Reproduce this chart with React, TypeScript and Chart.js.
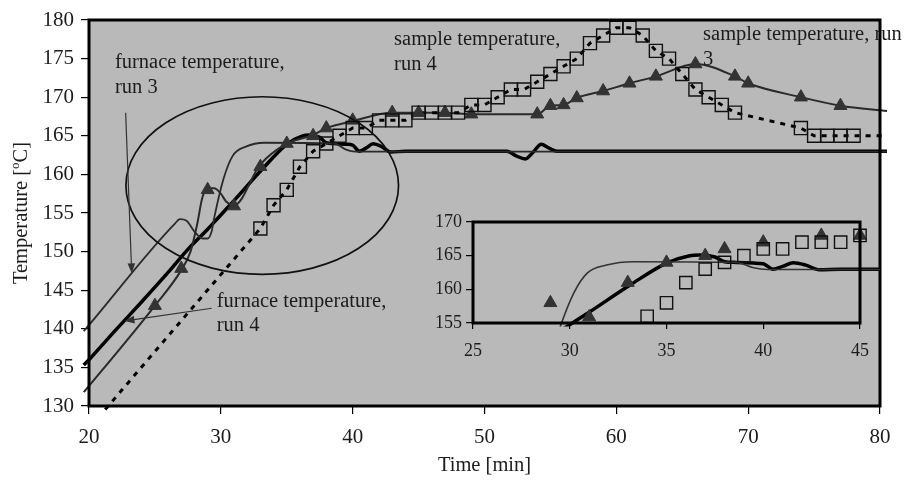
import React, { useEffect, useRef } from "react";
import { Chart, registerables } from "chart.js";

Chart.register(...registerables);

const FONT = "'Liberation Serif', 'Times New Roman', Times, serif";
const PLOT_BG = "#b9b9b9";
const INK = "#1c1c1c";

// ---------- axes ----------
const xTicks = [20, 30, 40, 50, 60, 70, 80];
const yTicks = [130, 135, 140, 145, 150, 155, 160, 165, 170, 175, 180];
const insetXTicks = [25, 30, 35, 40, 45];
const insetYTicks = [155, 160, 165, 170];

// ---------- furnace temperature, run 4 (thick line) ----------
const furnace4X = [19.6, 20, 22, 24, 26, 27.4, 29, 29.84, 31, 33.1, 35, 36.2, 36.7, 37.5, 38, 38.6, 39.5, 40, 40.5, 41, 41.55, 42.2, 42.9, 44, 51.7, 52.4, 53.1, 53.7, 54.3, 54.9, 55.5, 80.6];
const furnace4Y = [135.3, 136, 139.8, 143.5, 147.3, 150.1, 152.9, 154.45, 156.6, 160.6, 163.9, 165.0, 165.1, 164.8, 164.1, 164, 163.9, 163.8, 163.0, 163.4, 163.96, 163.6, 162.9, 163, 163, 162.4, 162.0, 162.9, 163.9, 163.4, 163, 163];

// ---------- furnace temperature, run 3 (thin line) ----------
const furnace3X = [19.6, 20, 26.5, 26.9, 27.4, 28.0, 28.6, 29.0, 29.3, 29.5, 30.2, 30.9, 31.9, 33.3, 38.6, 39.5, 40.2, 80.6];
const furnace3Y = [139.7, 140.5, 153.6, 154.2, 154.0, 152.6, 151.7, 151.7, 152.6, 154.4, 159.4, 162.4, 163.6, 164.1, 164.0, 163.2, 162.95, 162.95];

// ---------- sample temperature, run 3 (curve + triangles) ----------
const sample3LineX = [19.6, 20, 25, 27, 27.7, 28.2, 28.6, 29.0, 29.5, 30.0, 30.4, 31, 33, 35, 37, 38, 40, 43, 45, 47, 49, 54, 55, 56, 57, 59, 61, 63, 66, 69, 70, 74, 77, 80.6];
const sample3LineY = [131.8, 132.6, 143, 147.6, 150, 153.5, 157, 158.2, 158.2, 157.5, 156.5, 156, 161.3, 164, 165.1, 166, 166.9, 168, 168, 168, 167.8, 167.8, 168.9, 169, 169.9, 170.8, 171.8, 172.7, 174.3, 172.7, 171.8, 170, 168.9, 168.2];
const sample3X = [25, 27, 29, 31, 33, 35, 37, 38, 40, 43, 45, 47, 49, 54, 55, 56, 57, 59, 61, 63, 66, 69, 70, 74, 77];
const sample3Y = [143, 147.8, 158, 155.9, 161, 164, 165, 166, 167, 168, 168, 168, 167.8, 167.8, 168.9, 169, 169.9, 170.8, 171.8, 172.7, 174.3, 172.7, 171.8, 170, 168.9];

// ---------- sample temperature, run 4 (squares + dotted curve) ----------
const sample4X = [33, 34, 35, 36, 37, 38, 39, 40, 41, 42, 43, 44, 45, 46, 47, 48, 49, 50, 51, 52, 53, 54, 55, 56, 57, 58, 59, 60, 61, 62, 63, 64, 65, 66, 67, 68, 69, 74, 75, 76, 77, 78];
const sample4Y = [153, 156, 158, 161, 163, 164, 165, 166, 166, 167, 167, 167, 168, 168, 168, 168, 169, 169, 170, 171, 171, 172, 173, 174, 175, 177, 178, 179, 179, 178, 176, 175, 173, 171, 170, 169, 168, 166, 165, 165, 165, 165];
const sample4LeadX = [19.6];
const sample4LeadY = [126.3];
const sample4TailX = [80.6];
const sample4TailY = [165];

// ---------- annotations (data coordinates) ----------
const ellipse = { cx: 33.14, cy: 158.56, rx: 10.34, ry: 11.5 };
const notes = [
  { x: 21.97, y: 173.74, lines: ["furnace temperature,", "run 3"] },
  { x: 43.14, y: 176.76, lines: ["sample temperature,", "run 4"] },
  { x: 66.58, y: 177.4, lines: ["sample temperature, run", "3"] },
  { x: 29.69, y: 142.86, lines: ["furnace temperature,", "run 4"] },
];
const arrows = [
  { x0: 22.78, y0: 167.99, x1: 23.24, y1: 147.19 },
  { x0: 29.31, y0: 142.66, x1: 22.69, y1: 141.0 },
];

const pts = (xs: number[], ys: number[]) => xs.map((x, i) => ({ x, y: ys[i] }));

function drawArrow(ctx: CanvasRenderingContext2D, x0: number, y0: number, x1: number, y1: number) {
  const ang = Math.atan2(y1 - y0, x1 - x0);
  const L = 10, W = 3.8;
  ctx.beginPath();
  ctx.moveTo(x0, y0);
  ctx.lineTo(x1 - (L - 2) * Math.cos(ang), y1 - (L - 2) * Math.sin(ang));
  ctx.stroke();
  ctx.beginPath();
  ctx.moveTo(x1, y1);
  ctx.lineTo(x1 - L * Math.cos(ang) + W * Math.sin(ang), y1 - L * Math.sin(ang) - W * Math.cos(ang));
  ctx.lineTo(x1 - L * Math.cos(ang) - W * Math.sin(ang), y1 - L * Math.sin(ang) + W * Math.cos(ang));
  ctx.closePath();
  ctx.fill();
}

const mainDecor = {
  id: "mainDecor",
  beforeDraw(chart: any) {
    const { ctx, chartArea: a } = chart;
    ctx.save();
    ctx.fillStyle = PLOT_BG;
    ctx.fillRect(a.left, a.top, a.right - a.left, a.bottom - a.top);
    ctx.restore();
  },
  afterDatasetsDraw(chart: any) {
    const { ctx, chartArea: a } = chart;
    const xs = chart.scales.x, ys = chart.scales.y;
    ctx.save();
    // ellipse
    const cx = xs.getPixelForValue(ellipse.cx), cy = ys.getPixelForValue(ellipse.cy);
    const rx = Math.abs(xs.getPixelForValue(ellipse.cx + ellipse.rx) - cx);
    const ry = Math.abs(ys.getPixelForValue(ellipse.cy + ellipse.ry) - cy);
    ctx.strokeStyle = "#111";
    ctx.lineWidth = 1.7;
    ctx.beginPath();
    ctx.ellipse(cx, cy, rx, ry, 0, 0, Math.PI * 2);
    ctx.stroke();
    // arrows
    ctx.strokeStyle = "#333";
    ctx.fillStyle = "#333";
    ctx.lineWidth = 1.2;
    arrows.forEach((r) =>
      drawArrow(ctx, xs.getPixelForValue(r.x0), ys.getPixelForValue(r.y0), xs.getPixelForValue(r.x1), ys.getPixelForValue(r.y1))
    );
    // notes
    ctx.fillStyle = INK;
    ctx.font = `20.5px ${FONT}`;
    ctx.textAlign = "left";
    ctx.textBaseline = "alphabetic";
    notes.forEach((n) => {
      const px = xs.getPixelForValue(n.x), py = ys.getPixelForValue(n.y);
      n.lines.forEach((l, i) => ctx.fillText(l, px, py + i * 24.5));
    });
    // border
    ctx.strokeStyle = "#000";
    ctx.lineWidth = 3;
    ctx.strokeRect(a.left, a.top, a.right - a.left, a.bottom - a.top);
    // x title
    ctx.fillStyle = INK;
    ctx.font = `20.5px ${FONT}`;
    ctx.textAlign = "center";
    ctx.textBaseline = "middle";
    ctx.fillText("Time [min]", (a.left + a.right) / 2, 466);
    // y title with superscript
    ctx.translate(22, (a.top + a.bottom) / 2);
    ctx.rotate(-Math.PI / 2);
    const f1 = `20.5px ${FONT}`, f2 = `13px ${FONT}`;
    ctx.font = f1;
    const w1 = ctx.measureText("Temperature [").width;
    const w3 = ctx.measureText("C]").width;
    ctx.font = f2;
    const w2 = ctx.measureText("o").width;
    let sx = -(w1 + w2 + w3) / 2;
    ctx.textAlign = "left";
    ctx.font = f1;
    ctx.fillText("Temperature [", sx, 0);
    sx += w1;
    ctx.font = f2;
    ctx.fillText("o", sx, -6);
    sx += w2;
    ctx.font = f1;
    ctx.fillText("C]", sx, 0);
    ctx.restore();
  },
};

const insetDecor = {
  id: "insetDecor",
  beforeDraw(chart: any) {
    const { ctx, chartArea: a } = chart;
    ctx.save();
    ctx.fillStyle = PLOT_BG;
    ctx.fillRect(a.left, a.top, a.right - a.left, a.bottom - a.top);
    ctx.restore();
  },
  afterDatasetsDraw(chart: any) {
    const { ctx, chartArea: a } = chart;
    ctx.save();
    ctx.strokeStyle = "#000";
    ctx.lineWidth = 3;
    ctx.strokeRect(a.left, a.top, a.right - a.left, a.bottom - a.top);
    ctx.restore();
  },
};

function axis(ticks: number[], fontSize: number, tickLength: number, padding: number, fit: (s: any) => void) {
  return {
    type: "linear" as const,
    min: ticks[0],
    max: ticks[ticks.length - 1],
    afterBuildTicks: (s: any) => {
      s.ticks = ticks.map((v) => ({ value: v }));
    },
    ticks: { font: { family: FONT, size: fontSize }, color: INK, padding, maxRotation: 0, autoSkip: false },
    grid: { drawOnChartArea: false, drawTicks: true, tickLength, color: "#000", lineWidth: 1.2 },
    border: { display: false },
    afterFit: fit,
  };
}

export default function App() {
  const mainRef = useRef<HTMLCanvasElement>(null);
  const insetRef = useRef<HTMLCanvasElement>(null);

  useEffect(() => {
    const lineClip = { left: 7, top: 0, right: 7, bottom: 6 };
    const main = new Chart(mainRef.current as HTMLCanvasElement, {
      type: "line",
      data: {
        datasets: [
          {
            label: "sample temperature, run 4 (points)",
            data: pts(sample4X, sample4Y),
            showLine: false,
            pointStyle: "rect",
            pointRadius: 9.2,
            pointBorderWidth: 1.4,
            pointBorderColor: "#111",
            pointBackgroundColor: "rgba(0,0,0,0)",
          },
          {
            label: "sample temperature, run 3 (points)",
            data: pts(sample3X, sample3Y),
            showLine: false,
            pointStyle: "triangle",
            pointRadius: 7.5,
            pointBorderWidth: 1,
            pointBorderColor: "#333",
            pointBackgroundColor: "#333",
          },
          {
            label: "sample temperature, run 4",
            data: pts([...sample4LeadX, ...sample4X, ...sample4TailX], [...sample4LeadY, ...sample4Y, ...sample4TailY]),
            borderColor: "#000",
            borderWidth: 3,
            borderDash: [5, 6],
            tension: 0,
            pointRadius: 0,
            clip: lineClip,
          },
          {
            label: "sample temperature, run 3",
            data: pts(sample3LineX, sample3LineY),
            borderColor: "#2a2a2a",
            borderWidth: 2,
            cubicInterpolationMode: "monotone",
            pointRadius: 0,
            clip: lineClip,
          },
          {
            label: "furnace temperature, run 3",
            data: pts(furnace3X, furnace3Y),
            borderColor: "#2a2a2a",
            borderWidth: 1.8,
            cubicInterpolationMode: "monotone",
            pointRadius: 0,
            clip: lineClip,
          },
          {
            label: "furnace temperature, run 4",
            data: pts(furnace4X, furnace4Y),
            borderColor: "#000",
            borderWidth: 3.5,
            cubicInterpolationMode: "monotone",
            pointRadius: 0,
            clip: lineClip,
          },
        ],
      },
      options: {
        animation: false,
        responsive: false,
        devicePixelRatio: 1,
        events: [],
        layout: { padding: { left: 0, right: 27, top: 20, bottom: 0 } },
        plugins: { legend: { display: false }, tooltip: { enabled: false } },
        scales: {
          x: axis(xTicks, 21, 8, 11, (s: any) => { s.height = 75; }),
          y: axis(yTicks, 21, 8, 7, (s: any) => { s.width = 89; }),
        },
      } as any,
      plugins: [mainDecor],
    } as any);

    const insetClip = { left: 0, top: 0, right: 20, bottom: 3.5 };
    const inset = new Chart(insetRef.current as HTMLCanvasElement, {
      type: "line",
      data: {
        datasets: [
          {
            label: "sample temperature, run 4",
            data: pts(sample4X, sample4Y),
            showLine: false,
            pointStyle: "rect",
            pointRadius: 8.7,
            pointBorderWidth: 1.4,
            pointBorderColor: "#111",
            pointBackgroundColor: "rgba(0,0,0,0)",
            clip: insetClip,
          },
          {
            label: "sample temperature, run 3",
            data: pts(sample3X, sample3Y),
            showLine: false,
            pointStyle: "triangle",
            pointRadius: 7.5,
            pointBorderWidth: 1,
            pointBorderColor: "#333",
            pointBackgroundColor: "#333",
            clip: insetClip,
          },
          {
            label: "furnace temperature, run 3",
            data: pts(furnace3X, furnace3Y),
            borderColor: "#333",
            borderWidth: 1.6,
            cubicInterpolationMode: "monotone",
            pointRadius: 0,
            clip: insetClip,
          },
          {
            label: "furnace temperature, run 4",
            data: pts(furnace4X, furnace4Y),
            borderColor: "#000",
            borderWidth: 3.5,
            cubicInterpolationMode: "monotone",
            pointRadius: 0,
            clip: insetClip,
          },
        ],
      },
      options: {
        animation: false,
        responsive: false,
        devicePixelRatio: 1,
        events: [],
        layout: { padding: { left: 0, right: 20, top: 22, bottom: 0 } },
        plugins: { legend: { display: false }, tooltip: { enabled: false } },
        scales: {
          x: axis(insetXTicks, 18, 6, 11, (s: any) => { s.height = 47; }),
          y: axis(insetYTicks, 18, 7, 4, (s: any) => { s.width = 73; }),
        },
      } as any,
      plugins: [insetDecor],
    } as any);

    return () => {
      main.destroy();
      inset.destroy();
    };
  }, []);

  return (
    <div style={{ position: "fixed", left: 0, top: 0, width: 907, height: 481, background: "#fff", overflow: "hidden" }}>
      <canvas ref={mainRef} width={907} height={481} style={{ position: "absolute", left: 0, top: 0, width: 907, height: 481 }} />
      <canvas ref={insetRef} width={480} height={170} style={{ position: "absolute", left: 400, top: 200, width: 480, height: 170 }} />
    </div>
  );
}
